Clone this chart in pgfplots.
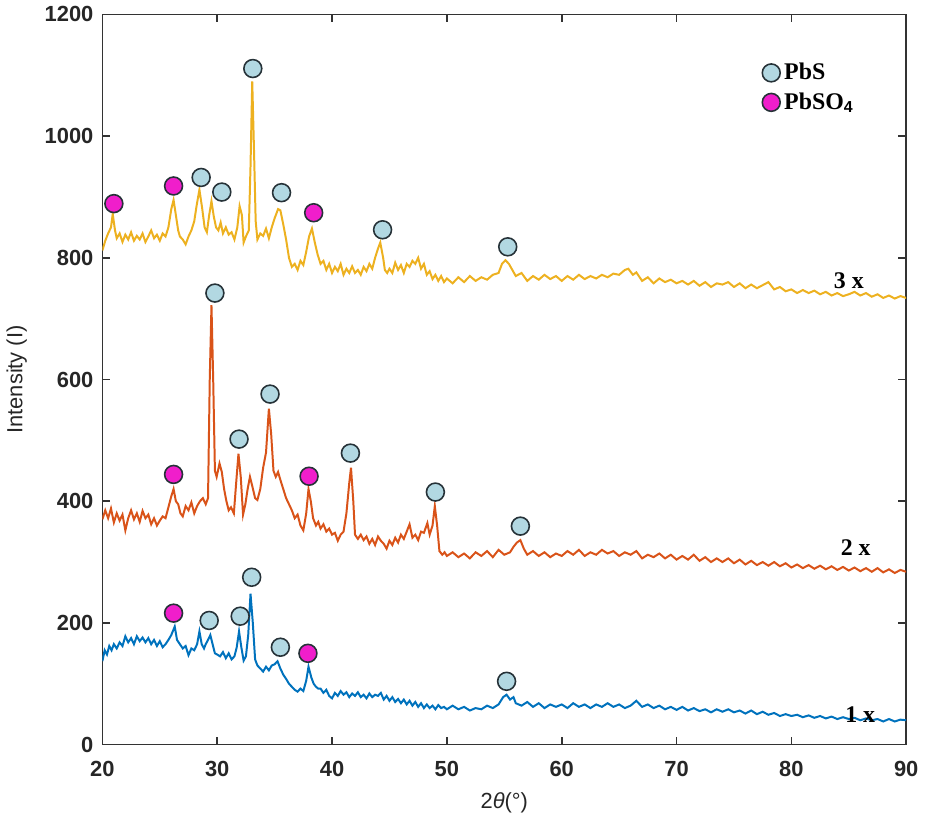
\documentclass[border=0pt]{standalone}
\usepackage{pgfplots}
\pgfplotsset{compat=1.18}
\usepackage{fontspec}
\setmainfont{Liberation Sans}
\newfontfamily\serifb{Liberation Serif}
\definecolor{mblue}{HTML}{0072BD}
\definecolor{morange}{HTML}{D95319}
\definecolor{myellow}{HTML}{EDB120}
\definecolor{pbsfill}{HTML}{B2D8E2}
\definecolor{pbso4fill}{HTML}{F01ECB}
\definecolor{mkedge}{HTML}{263238}
\begin{document}
\begin{tikzpicture}
\begin{axis}[
  scale only axis, width=404pt, height=367pt,
  xmin=20, xmax=90, ymin=0, ymax=1200,
  xtick={20,30,...,90}, ytick={0,200,...,1200},
  /pgf/number format/assume math mode=true,
  /pgf/number format/1000 sep={},
  ticklabel style={font=\bfseries\fontsize{11}{13}\selectfont, text=black!85},
  xticklabel style={yshift=-5pt},
  yticklabel style={xshift=-1pt},
  tick align=inside, major tick length=4pt,
  axis line style={draw=black!80, line width=0.8pt},
  tick style={draw=black!80, line width=0.8pt},
  xlabel={2\textit{θ}(°)}, ylabel={Intensity (I)},
  label style={font=\fontsize{11}{13}\selectfont, text=black!85},
  xlabel style={yshift=-1pt},
  ylabel style={yshift=2pt},
  legend style={draw=none, fill=none, at={(0.818,0.942)}, anchor=north west,
    font=\serifb\bfseries\fontsize{12}{14}\selectfont, row sep=1pt,
    inner sep=1pt},
  legend cell align=left,
]
% 3x (yellow)
\addplot[myellow, line width=1pt, forget plot] coordinates {
(20.0,812)(20.25,828)(20.5,840)(20.75,850)(20.9,872)(21.1,845)(21.25,832)(21.5,840)(21.75,826)(22.0,838)(22.25,830)(22.5,842)(22.75,828)(23.0,836)(23.25,830)(23.5,840)(23.75,826)(24.0,835)(24.25,845)(24.5,832)(24.75,838)(25.0,828)(25.25,840)(25.5,835)(25.75,850)(26.0,880)(26.2,895)(26.4,870)(26.6,845)(26.75,835)(27.0,830)(27.25,822)(27.5,835)(27.75,845)(28.0,860)(28.2,885)(28.45,912)(28.7,880)(28.9,850)(29.1,842)(29.3,870)(29.5,893)(29.7,868)(29.9,850)(30.1,845)(30.3,858)(30.5,840)(30.75,850)(31.0,838)(31.25,842)(31.5,830)(31.75,850)(31.95,885)(32.15,870)(32.3,825)(32.5,835)(32.75,845)(32.9,950)(33.05,1090)(33.2,980)(33.35,860)(33.5,830)(33.75,840)(34.0,836)(34.25,848)(34.5,832)(34.75,850)(35.0,865)(35.3,880)(35.5,878)(35.75,855)(36.0,830)(36.25,800)(36.5,785)(36.75,790)(37.0,780)(37.25,795)(37.5,788)(37.75,810)(38.0,835)(38.25,848)(38.5,825)(38.75,805)(39.0,790)(39.25,795)(39.5,780)(39.75,790)(40.0,775)(40.25,785)(40.5,778)(40.75,790)(41.0,772)(41.25,782)(41.5,775)(41.75,786)(42.0,775)(42.25,780)(42.5,772)(42.75,785)(43.0,778)(43.25,790)(43.5,782)(43.75,800)(44.0,815)(44.2,825)(44.45,800)(44.6,780)(44.8,775)(45.0,782)(45.25,775)(45.5,792)(45.75,780)(46.0,788)(46.25,775)(46.5,790)(46.75,785)(47.0,795)(47.25,790)(47.5,800)(47.75,782)(48.0,790)(48.25,772)(48.5,778)(48.75,765)(49.0,772)(49.25,762)(49.5,770)(49.75,760)(50.0,766)(50.5,758)(51.0,768)(51.5,760)(52.0,770)(52.5,762)(53.0,768)(53.5,764)(54.0,772)(54.5,775)(54.8,790)(55.1,796)(55.4,790)(55.7,780)(56.0,770)(56.5,775)(57.0,762)(57.5,770)(58.0,764)(58.5,772)(59.0,765)(59.5,770)(60.0,762)(60.5,770)(61.0,764)(61.5,772)(62.0,765)(62.5,770)(63.0,766)(63.5,772)(64.0,768)(64.5,774)(65.0,772)(65.5,780)(65.8,782)(66.2,772)(66.5,776)(67.0,762)(67.5,768)(68.0,758)(68.5,766)(69.0,760)(69.5,764)(70.0,758)(70.5,762)(71.0,756)(71.5,762)(72.0,754)(72.5,760)(73.0,752)(73.5,758)(74.0,756)(74.5,760)(75.0,752)(75.5,758)(76.0,750)(76.5,756)(77.0,750)(77.5,755)(78.0,760)(78.5,748)(79.0,752)(79.5,745)(80.0,748)(80.5,742)(81.0,747)(81.5,742)(82.0,746)(82.5,740)(83.0,744)(83.5,738)(84.0,742)(84.5,737)(85.0,740)(85.5,744)(86.0,738)(86.5,742)(87.0,736)(87.5,740)(88.0,734)(88.5,738)(89.0,733)(89.5,737)(90.0,734)
};
% 2x (orange)
\addplot[morange, line width=1pt, forget plot] coordinates {
(20.0,370)(20.25,385)(20.5,372)(20.75,388)(21.0,365)(21.25,380)(21.5,368)(21.75,378)(22.0,352)(22.25,372)(22.5,385)(22.75,370)(23.0,380)(23.25,366)(23.5,384)(23.75,372)(24.0,378)(24.25,362)(24.5,372)(24.75,360)(25.0,368)(25.25,375)(25.5,372)(25.75,390)(26.0,408)(26.2,420)(26.4,400)(26.6,395)(26.8,380)(27.0,375)(27.25,392)(27.5,385)(27.75,398)(28.0,380)(28.25,392)(28.5,400)(28.75,405)(29.0,395)(29.2,405)(29.35,600)(29.5,722)(29.65,600)(29.8,450)(29.95,440)(30.2,462)(30.4,448)(30.6,420)(30.8,400)(31.0,385)(31.2,390)(31.45,380)(31.65,430)(31.85,478)(32.05,440)(32.25,378)(32.45,395)(32.65,420)(32.85,440)(33.05,425)(33.3,405)(33.5,402)(33.75,420)(34.0,455)(34.25,480)(34.5,552)(34.7,510)(34.9,450)(35.1,440)(35.3,448)(35.5,435)(35.75,420)(36.0,405)(36.25,395)(36.5,385)(36.75,372)(37.0,378)(37.25,360)(37.5,352)(37.75,380)(37.95,420)(38.15,400)(38.35,372)(38.6,360)(38.8,366)(39.0,355)(39.25,362)(39.5,350)(39.75,355)(40.0,345)(40.25,348)(40.5,335)(40.75,345)(41.0,350)(41.25,380)(41.5,430)(41.65,455)(41.85,400)(42.0,345)(42.25,338)(42.5,345)(42.75,336)(43.0,342)(43.25,330)(43.5,338)(43.75,328)(44.0,342)(44.25,335)(44.5,330)(44.75,322)(45.0,335)(45.25,328)(45.5,340)(45.75,332)(46.0,345)(46.25,338)(46.5,350)(46.75,362)(47.0,340)(47.25,345)(47.5,336)(47.75,350)(48.0,348)(48.3,364)(48.5,345)(48.75,360)(48.95,392)(49.15,360)(49.35,318)(49.6,312)(49.8,316)(50.0,310)(50.5,316)(51.0,308)(51.5,314)(52.0,306)(52.5,316)(53.0,310)(53.5,318)(54.0,308)(54.5,320)(55.0,312)(55.5,316)(55.8,325)(56.1,332)(56.4,336)(56.7,322)(57.0,312)(57.5,318)(58.0,310)(58.5,316)(59.0,308)(59.5,314)(60.0,310)(60.5,318)(61.0,312)(61.5,320)(62.0,310)(62.5,316)(63.0,312)(63.5,320)(64.0,314)(64.5,318)(65.0,310)(65.5,316)(66.0,312)(66.5,318)(67.0,306)(67.5,312)(68.0,308)(68.5,314)(69.0,306)(69.5,312)(70.0,304)(70.5,310)(71.0,304)(71.5,312)(72.0,302)(72.5,308)(73.0,300)(73.5,306)(74.0,300)(74.5,306)(75.0,298)(75.5,304)(76.0,296)(76.5,302)(77.0,295)(77.5,300)(78.0,294)(78.5,300)(79.0,293)(79.5,298)(80.0,291)(80.5,296)(81.0,290)(81.5,295)(82.0,289)(82.5,294)(83.0,288)(83.5,293)(84.0,287)(84.5,292)(85.0,286)(85.5,291)(86.0,285)(86.5,290)(87.0,284)(87.5,290)(88.0,283)(88.5,288)(89.0,282)(89.5,287)(90.0,284)
};
% 1x (blue)
\addplot[mblue, line width=1pt, forget plot] coordinates {
(20.0,137)(20.2,155)(20.4,148)(20.6,162)(20.8,155)(21.0,165)(21.25,158)(21.5,168)(21.75,162)(22.0,178)(22.25,168)(22.5,175)(22.75,165)(23.0,178)(23.25,170)(23.5,176)(23.75,168)(24.0,175)(24.25,165)(24.5,172)(24.75,162)(25.0,170)(25.25,160)(25.5,165)(25.75,172)(26.0,180)(26.3,194)(26.5,172)(26.75,165)(27.0,158)(27.25,162)(27.5,147)(27.75,158)(28.0,155)(28.25,165)(28.45,186)(28.65,165)(28.85,158)(29.0,165)(29.2,172)(29.4,180)(29.6,165)(29.8,150)(30.0,148)(30.25,145)(30.5,152)(30.75,142)(31.0,150)(31.25,140)(31.5,145)(31.7,160)(31.9,186)(32.1,160)(32.3,138)(32.5,145)(32.7,180)(32.9,248)(33.1,200)(33.3,140)(33.5,130)(33.75,125)(34.0,120)(34.25,128)(34.5,122)(34.75,130)(35.0,132)(35.25,137)(35.5,125)(35.75,115)(36.0,108)(36.25,100)(36.5,95)(36.75,90)(37.0,87)(37.25,92)(37.5,88)(37.75,105)(37.95,128)(38.2,110)(38.4,100)(38.6,95)(38.8,92)(39.0,92)(39.25,85)(39.5,90)(39.75,80)(40.0,76)(40.25,85)(40.5,80)(40.75,88)(41.0,82)(41.25,86)(41.5,78)(41.75,84)(42.0,80)(42.25,86)(42.5,78)(42.75,82)(43.0,76)(43.25,84)(43.5,78)(43.75,82)(44.0,80)(44.25,85)(44.5,74)(44.75,80)(45.0,72)(45.25,78)(45.5,70)(45.75,75)(46.0,68)(46.25,74)(46.5,66)(46.75,72)(47.0,64)(47.25,70)(47.5,62)(47.75,68)(48.0,60)(48.25,66)(48.5,60)(48.75,64)(49.0,58)(49.25,65)(49.5,60)(49.75,62)(50.0,58)(50.5,64)(51.0,58)(51.5,62)(52.0,56)(52.5,60)(53.0,58)(53.5,64)(54.0,60)(54.5,66)(54.9,78)(55.2,82)(55.5,74)(55.8,78)(56.0,68)(56.5,64)(57.0,70)(57.5,62)(58.0,68)(58.5,60)(59.0,66)(59.5,62)(60.0,66)(60.5,60)(61.0,68)(61.5,62)(62.0,66)(62.5,60)(63.0,66)(63.5,62)(64.0,68)(64.5,62)(65.0,66)(65.5,60)(66.0,64)(66.5,72)(67.0,62)(67.5,66)(68.0,60)(68.5,64)(69.0,58)(69.5,62)(70.0,57)(70.5,62)(71.0,56)(71.5,60)(72.0,55)(72.5,58)(73.0,53)(73.5,58)(74.0,54)(74.5,58)(75.0,53)(75.5,56)(76.0,51)(76.5,56)(77.0,50)(77.5,54)(78.0,49)(78.5,52)(79.0,47)(79.5,50)(80.0,47)(80.5,49)(81.0,45)(81.5,48)(82.0,44)(82.5,47)(83.0,43)(83.5,46)(84.0,42)(84.5,45)(85.0,42)(85.5,44)(86.0,40)(86.5,43)(87.0,40)(87.5,42)(88.0,38)(88.5,42)(89.0,38)(89.5,41)(90.0,40)
};
% markers
\addplot[only marks, mark=*, mark size=4.5pt, mark options={fill=pbsfill, draw=mkedge, line width=0.8pt}] coordinates {
(28.6,932)(30.4,908)(33.1,1111)(35.6,907)(44.4,846)(55.3,818)
(29.8,742)(31.9,502)(34.6,576)(41.6,479)(49.0,415)(56.4,359)
(29.3,204)(32.0,211)(33.0,275)(35.5,160)(55.2,104)
};
\addlegendentry{PbS}
\addplot[only marks, mark=*, mark size=4.5pt, mark options={fill=pbso4fill, draw=mkedge, line width=0.8pt}] coordinates {
(21.0,889)(26.2,918)(38.4,874)
(26.2,444)(38.0,441)
(26.2,216)(37.9,150)
};
\addlegendentry{PbSO$_{\mathbf{4}}$}
\node[font=\serifb\bfseries\fontsize{12}{14}\selectfont] at (axis cs:85.0,762) {3 x};
\node[font=\serifb\bfseries\fontsize{12}{14}\selectfont] at (axis cs:85.6,323) {2 x};
\node[font=\serifb\bfseries\fontsize{12}{14}\selectfont] at (axis cs:86.0,50) {1 x};
\end{axis}
\end{tikzpicture}
\end{document}
